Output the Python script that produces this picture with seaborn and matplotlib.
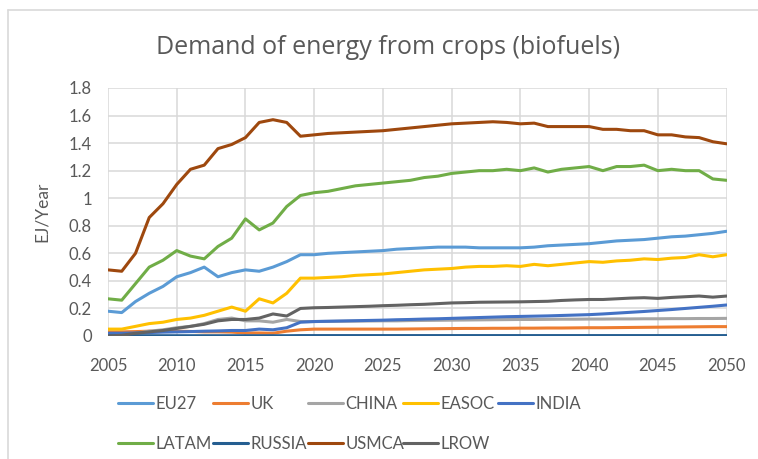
import matplotlib
matplotlib.use("Agg")
import matplotlib.pyplot as plt
from matplotlib.lines import Line2D
from matplotlib.ticker import FuncFormatter
import numpy as np
import pandas as pd
import seaborn as sns

years = list(range(2005, 2051))

eu27 = [0.18, 0.17, 0.25, 0.31, 0.36, 0.43, 0.46, 0.50, 0.43, 0.46, 0.48, 0.47, 0.50, 0.54, 0.59, 0.59,
        0.60, 0.605, 0.61, 0.615,
        0.62, 0.63, 0.635, 0.64, 0.645, 0.645, 0.645, 0.64, 0.64, 0.64, 0.64, 0.645, 0.655, 0.66, 0.665,
        0.67, 0.68, 0.69, 0.695, 0.70, 0.71, 0.72, 0.725, 0.735, 0.745, 0.76]
uk = [0.03, 0.03, 0.032, 0.035, 0.035, 0.035, 0.033, 0.03, 0.03, 0.028, 0.022, 0.022, 0.02, 0.035, 0.045, 0.05,
      0.05, 0.05, 0.05, 0.05,
      0.05, 0.05, 0.051, 0.052, 0.053, 0.054, 0.055, 0.055, 0.056, 0.056, 0.057, 0.057, 0.058, 0.058, 0.059,
      0.06, 0.06, 0.061, 0.062, 0.063, 0.064, 0.065, 0.066, 0.067, 0.068, 0.068]
china = [0.0, 0.005, 0.02, 0.035, 0.045, 0.06, 0.07, 0.09, 0.12, 0.13, 0.11, 0.11, 0.10, 0.12, 0.105, 0.105,
         0.106, 0.107, 0.108, 0.109,
         0.11, 0.11, 0.112, 0.113, 0.114, 0.115, 0.116, 0.117, 0.118, 0.119, 0.12, 0.12, 0.121, 0.122, 0.122,
         0.123, 0.123, 0.124, 0.124, 0.125, 0.125, 0.126, 0.126, 0.127, 0.127, 0.128]
easoc = [0.05, 0.05, 0.07, 0.09, 0.10, 0.12, 0.13, 0.15, 0.18, 0.21, 0.18, 0.27, 0.24, 0.31, 0.42, 0.42,
         0.425, 0.43, 0.44, 0.445,
         0.45, 0.46, 0.47, 0.48, 0.485, 0.49, 0.50, 0.505, 0.505, 0.51, 0.505, 0.52, 0.51, 0.52, 0.53,
         0.54, 0.535, 0.545, 0.55, 0.56, 0.555, 0.565, 0.57, 0.59, 0.575, 0.59]
india = [0.02, 0.02, 0.022, 0.025, 0.028, 0.03, 0.032, 0.035, 0.037, 0.04, 0.04, 0.05, 0.045, 0.06, 0.10, 0.105,
         0.107, 0.109, 0.111, 0.113,
         0.115, 0.118, 0.12, 0.123, 0.125, 0.128, 0.131, 0.134, 0.137, 0.14, 0.142, 0.144, 0.146, 0.149, 0.152,
         0.155, 0.16, 0.166, 0.172, 0.178, 0.185, 0.192, 0.20, 0.208, 0.216, 0.225]
latam = [0.27, 0.26, 0.38, 0.50, 0.55, 0.62, 0.58, 0.56, 0.65, 0.71, 0.85, 0.77, 0.82, 0.94, 1.02, 1.04,
         1.05, 1.07, 1.09, 1.10,
         1.11, 1.12, 1.13, 1.15, 1.16, 1.18, 1.19, 1.20, 1.20, 1.21, 1.20, 1.22, 1.19, 1.21, 1.22,
         1.23, 1.20, 1.23, 1.23, 1.24, 1.20, 1.21, 1.20, 1.20, 1.14, 1.13]
russia = [0.002, 0.002, 0.002, 0.002, 0.002, 0.002, 0.002, 0.002, 0.002, 0.002, 0.002, 0.002, 0.002, 0.002, 0.003, 0.003,
          0.003, 0.003, 0.003, 0.003,
          0.003, 0.003, 0.003, 0.003, 0.003, 0.003, 0.003, 0.003, 0.003, 0.003, 0.003, 0.003, 0.003, 0.003, 0.003,
          0.003, 0.003, 0.003, 0.003, 0.003, 0.003, 0.003, 0.003, 0.003, 0.003, 0.003]
usmca = [0.48, 0.47, 0.60, 0.86, 0.96, 1.10, 1.21, 1.24, 1.36, 1.39, 1.44, 1.55, 1.57, 1.55, 1.45, 1.46,
         1.47, 1.475, 1.48, 1.485,
         1.49, 1.50, 1.51, 1.52, 1.53, 1.54, 1.545, 1.55, 1.555, 1.55, 1.54, 1.545, 1.52, 1.52, 1.52,
         1.52, 1.50, 1.50, 1.49, 1.49, 1.46, 1.46, 1.445, 1.44, 1.41, 1.395]
lrow = [0.0, 0.005, 0.02, 0.03, 0.04, 0.055, 0.07, 0.085, 0.11, 0.12, 0.12, 0.13, 0.16, 0.145, 0.20, 0.205,
        0.207, 0.21, 0.213, 0.216,
        0.22, 0.223, 0.227, 0.23, 0.235, 0.24, 0.242, 0.245, 0.246, 0.247, 0.248, 0.25, 0.252, 0.258, 0.262,
        0.265, 0.265, 0.27, 0.275, 0.278, 0.273, 0.28, 0.285, 0.29, 0.282, 0.29]

regions = ["EU27", "UK", "CHINA", "EASOC", "INDIA", "LATAM", "RUSSIA", "USMCA", "LROW"]
series = [eu27, uk, china, easoc, india, latam, russia, usmca, lrow]
colors = ["#5B9BD5", "#ED7D31", "#A5A5A5", "#FFC000", "#4472C4",
          "#70AD47", "#255E91", "#9E480E", "#636363"]

df = pd.concat(
    [pd.DataFrame({"Year": years, "Demand": vals, "Region": name}) for name, vals in zip(regions, series)],
    ignore_index=True,
)

sns.set_theme(style="white")
plt.rcParams["font.family"] = ["Lato", "DejaVu Sans"]
text_color = "#595959"
grid_color = "#D9D9D9"
label_size = 12

fig = plt.figure(figsize=(7.58, 4.59), dpi=100)
ax = fig.add_axes([108 / 758, 1 - 336 / 459, 618.6 / 758, 248 / 459])

sns.lineplot(data=df, x="Year", y="Demand", hue="Region", hue_order=regions,
             palette=dict(zip(regions, colors)), linewidth=2.2, legend=False, ax=ax)

ax.set_xlim(2005, 2050)
ax.set_ylim(0, 1.8)
ax.set_xticks(range(2005, 2051, 5))
ax.set_yticks(np.arange(0, 1.81, 0.2))
ax.yaxis.set_major_formatter(FuncFormatter(lambda v, p: f"{v:g}"))
ax.grid(True, color=grid_color, linewidth=1.1)
ax.set_axisbelow(True)
for s in ax.spines.values():
    s.set_visible(False)
ax.tick_params(axis="both", length=0, labelsize=label_size, colors=text_color)
ax.tick_params(axis="y", pad=11.5)
ax.tick_params(axis="x", pad=16)
ax.set_xlabel("")
ax.set_ylabel("EJ/Year", fontsize=12.5, color=text_color)
ax.yaxis.set_label_coords(-0.094, 0.5)

fig.text(388 / 758, 1 - 47 / 459, "Demand of energy from crops (biofuels)",
         ha="center", va="center", fontsize=18, color=text_color, family=["Open Sans", "DejaVu Sans"])

# chart frame (top and left edges)
fig.add_artist(Line2D([8 / 758, 1.0], [1 - 10 / 459, 1 - 10 / 459], transform=fig.transFigure,
                      color=grid_color, linewidth=1.2))
fig.add_artist(Line2D([8 / 758, 8 / 758], [1 - 10 / 459, 0.0], transform=fig.transFigure,
                      color=grid_color, linewidth=1.2))

# legend: five evenly spaced columns, entries read row by row
n_cols = 5
col_pitch = 95
for c in range(n_cols):
    idx = [i for i in range(len(regions)) if i % n_cols == c]
    handles = [Line2D([0], [0], color=colors[i], linewidth=2.2) for i in idx]
    labels = [regions[i] for i in idx]
    leg = fig.legend(handles, labels, ncol=1, loc="upper left",
                     bbox_to_anchor=((118 + c * col_pitch) / 758, 1 - 396 / 459), frameon=False,
                     fontsize=label_size, handlelength=2.1, handletextpad=0.15,
                     labelspacing=1.45, borderpad=0, borderaxespad=0)
    for t in leg.get_texts():
        t.set_color(text_color)

fig.savefig("out.png", dpi=100)
